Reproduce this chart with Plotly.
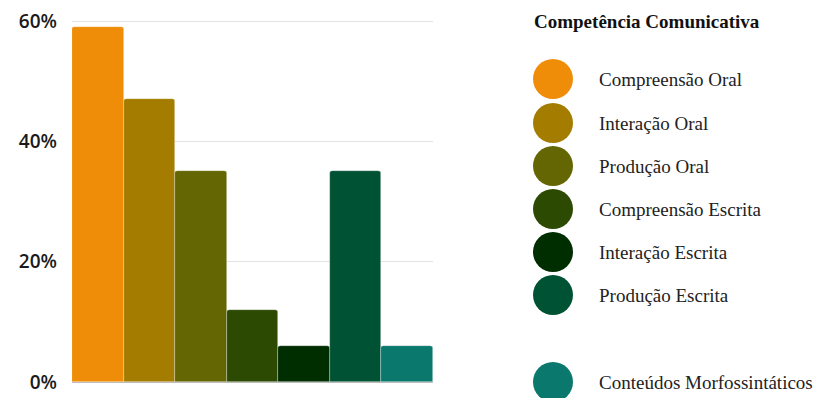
import plotly.graph_objects as go

# Categories, values (% of responses) and colours
categories = [
    "Compreensão Oral",
    "Interação Oral",
    "Produção Oral",
    "Compreensão Escrita",
    "Interação Escrita",
    "Produção Escrita",
    "Conteúdos Morfossintáticos",
]
values = [59, 47, 35, 12, 6, 35, 6]
colors = ["#EF8C08", "#A37C00", "#636602", "#2D4A03", "#002E00", "#005234", "#0A786C"]
legend_title = "Competência Comunicativa"
y_ticks = [0, 20, 40, 60]
y_tick_labels = ["0%", "20%", "40%", "60%"]

fig = go.Figure()
for i, (name, val, col) in enumerate(zip(categories, values, colors)):
    fig.add_trace(go.Bar(
        x=[i], y=[val], name=name, width=1,
        marker=dict(color=col, line=dict(width=0.6, color="rgba(255,255,255,0.5)"), cornerradius=3),
        showlegend=False,
    ))

# Custom legend with large circles
W, H = 815, 398
L, R, T, B = 72, 382, 15, 16
pw, ph = W - L - R, H - T - B
cx = 553
r = 20
rows_y = [79, 123, 166, 209, 252, 295, 382]


def px_to_paper_x(px):
    return (px - L) / pw


def px_to_paper_y(py):
    return (H - B - py) / ph


shapes = []
annotations = []
for name, col, yc in zip(categories, colors, rows_y):
    shapes.append(dict(type="circle", xref="paper", yref="paper",
                       x0=px_to_paper_x(cx - r), x1=px_to_paper_x(cx + r),
                       y0=px_to_paper_y(yc + r), y1=px_to_paper_y(yc - r),
                       fillcolor=col, line=dict(width=0), layer="above"))
    annotations.append(dict(xref="paper", yref="paper",
                            x=px_to_paper_x(597), y=px_to_paper_y(yc),
                            text=name, showarrow=False, xanchor="left", yanchor="middle",
                            font=dict(family="Liberation Serif", size=19, color="#222")))
annotations.append(dict(xref="paper", yref="paper",
                        x=px_to_paper_x(532), y=px_to_paper_y(22),
                        text="<b>" + legend_title + "</b>", showarrow=False,
                        xanchor="left", yanchor="middle",
                        font=dict(family="Liberation Serif", size=19, color="#111")))

fig.update_layout(
    width=W, height=H,
    margin=dict(l=L, r=R, t=T, b=B),
    paper_bgcolor="white", plot_bgcolor="white",
    barmode="overlay",
    bargap=0,
    shapes=shapes,
    annotations=annotations,
    xaxis=dict(range=[-0.5, 6.5], showticklabels=False, showgrid=False,
               zeroline=False, showline=False, fixedrange=True, automargin=False),
    yaxis=dict(range=[0, 61], tickvals=y_ticks, ticktext=y_tick_labels,
               showgrid=True, gridcolor="#E3E3E3", gridwidth=1,
               zeroline=True, zerolinecolor="#BDBDBD", zerolinewidth=1,
               ticks="", ticklabelstandoff=14, automargin=False,
               tickfont=dict(family="Open Sans", size=19, color="#1a1a1a", weight=600),
               showline=False),
)

fig.write_html("out.html")
